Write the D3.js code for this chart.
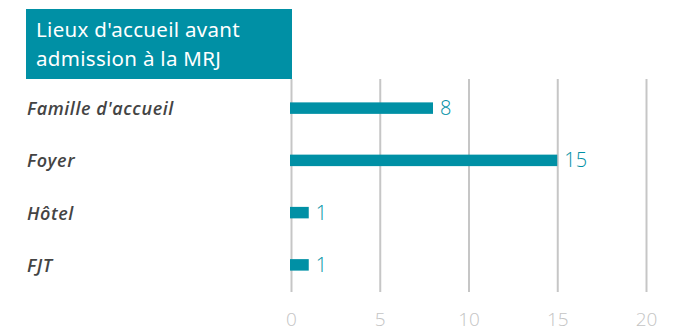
<!DOCTYPE html>
<html>
<head>
<meta charset="utf-8">
<script src="https://cdn.jsdelivr.net/npm/d3@7"></script>
<style>
	body { margin: 0; background: #fff; }
	svg { display: block; }
</style>
</head>
<body>
<svg id="chart" width="700" height="331"></svg>
<script>
// Chart data
var categories = ["Famille d'accueil", "Foyer", "Hôtel", "FJT"];
var values = [8, 15, 1, 1];
var ticks = [0, 5, 10, 15, 20];
var titleLines = ["Lieux d'accueil avant", "admission à la MRJ"];

var teal = "#0090a5";
var svg = d3.select("#chart");

var x = d3.scaleLinear()
	.domain([0, 20])
	.range([291, 646]);

var y = d3.scaleBand()
	.domain(categories)
	.range([82, 291])
	.paddingInner(0.78)
	.paddingOuter(0.39);

// Gridlines drawn with the axis
var axis = d3.axisBottom(x)
	.tickValues(ticks)
	.tickSize(-213)
	.tickPadding(21);

var gAxis = svg.append("g")
	.attr("transform", "translate(0,292)")
	.call(axis);
gAxis.select(".domain").remove();
gAxis.selectAll(".tick line")
	.attr("stroke", "#c6c6c6")
	.attr("stroke-width", 2);
gAxis.selectAll(".tick text")
	.attr("fill", "#c4c4c4")
	.attr("font-family", "'Open Sans', sans-serif")
	.attr("font-size", 19)
	.attr("font-weight", 300);

// Title box
svg.append("rect")
	.attr("x", 26)
	.attr("y", 9)
	.attr("width", 266)
	.attr("height", 70)
	.attr("fill", teal);

svg.selectAll(".title")
	.data(titleLines)
	.enter().append("text")
	.attr("class", "title")
	.attr("x", 36)
	.attr("y", function(d, i) { return 37 + i * 29; })
	.attr("fill", "#fff")
	.attr("font-family", "'Noto Sans', sans-serif")
	.attr("font-size", 20.5)
	.attr("letter-spacing", 0.3)
	.text(function(d) { return d; });

// Category labels
svg.selectAll(".cat")
	.data(categories)
	.enter().append("text")
	.attr("class", "cat")
	.attr("x", 27)
	.attr("y", function(d) { return y(d) + y.bandwidth() / 2 + 7; })
	.attr("fill", "#444")
	.attr("font-family", "'Open Sans', sans-serif")
	.attr("font-size", 18)
	.attr("font-weight", 600)
	.attr("font-style", "italic")
	.attr("letter-spacing", 0.6)
	.text(function(d) { return d; });

// Bars
svg.selectAll(".bar")
	.data(values)
	.enter().append("rect")
	.attr("class", "bar")
	.attr("x", x(0) - 1)
	.attr("y", function(d, i) { return y(categories[i]); })
	.attr("width", function(d) { return x(d) - x(0) + 1; })
	.attr("height", y.bandwidth())
	.attr("fill", teal);

// Value labels
svg.selectAll(".val")
	.data(values)
	.enter().append("text")
	.attr("class", "val")
	.attr("x", function(d) { return x(d) + 7; })
	.attr("y", function(d, i) { return y(categories[i]) + y.bandwidth() / 2 + 7; })
	.attr("fill", teal)
	.attr("font-family", "'Open Sans', sans-serif")
	.attr("font-size", 20)
	.attr("font-weight", 300)
	.text(function(d) { return d; });
</script>
</body>
</html>
